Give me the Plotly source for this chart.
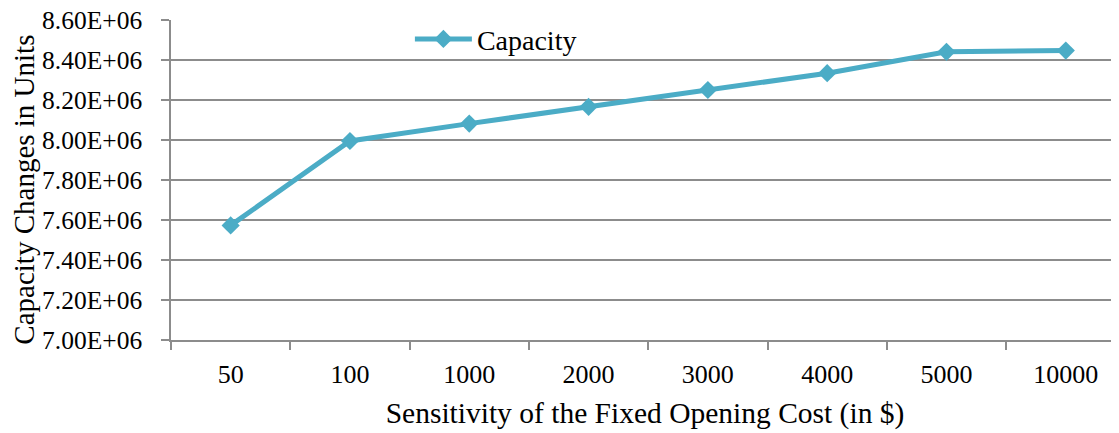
import plotly.graph_objects as go

categories = ["50", "100", "1000", "2000", "3000", "4000", "5000", "10000"]
capacity = [7.573e6, 7.995e6, 8.082e6, 8.166e6, 8.250e6, 8.334e6, 8.441e6, 8.447e6]
y_tick_vals = [7.0e6, 7.2e6, 7.4e6, 7.6e6, 7.8e6, 8.0e6, 8.2e6, 8.4e6, 8.6e6]
y_tick_text = ["7.00E+06", "7.20E+06", "7.40E+06", "7.60E+06", "7.80E+06",
               "8.00E+06", "8.20E+06", "8.40E+06", "8.60E+06"]
x_title = "Sensitivity of the Fixed Opening Cost (in $)"
y_title = "Capacity Changes in Units"

FONT = "Liberation Serif"
TEAL = "#4BACC6"
GRID = "#8C8C8C"

fig = go.Figure()
fig.add_trace(go.Scatter(
    x=categories, y=capacity, name="Capacity", mode="lines+markers",
    line=dict(color=TEAL, width=5),
    marker=dict(symbol="diamond", size=14, color=TEAL),
))

fig.add_annotation(
    text=y_title, textangle=-90, xref="paper", yref="paper",
    x=-0.155, y=0.47, xanchor="center", yanchor="middle", showarrow=False,
    font=dict(family=FONT, size=29, color="black"),
)

fig.update_layout(
    width=1111, height=425,
    margin=dict(l=163, r=0, t=12, b=93),
    paper_bgcolor="white", plot_bgcolor="white",
    font=dict(family=FONT, size=25.5, color="black"),
    showlegend=True,
    legend=dict(x=0.252, y=0.94, xanchor="left", yanchor="middle",
                bgcolor="rgba(0,0,0,0)", font=dict(family=FONT, size=28, color="black"),
                itemwidth=57, tracegroupgap=0),
    xaxis=dict(
        type="category", range=[-0.5, 7.446],
        showgrid=False, showline=True, linecolor=GRID, linewidth=1.5,
        ticks="outside", tickson="boundaries", ticklen=8, tickcolor=GRID, tickwidth=1.5,
        tickfont=dict(family=FONT, size=26, color="black"), ticklabelstandoff=10,
        title=dict(text=x_title,
                   font=dict(family=FONT, size=29.5, color="black"), standoff=14),
        automargin=False,
    ),
    yaxis=dict(
        range=[7.0e6, 8.6e6], tickvals=y_tick_vals, ticktext=y_tick_text,
        showgrid=True, gridcolor=GRID, gridwidth=1.5,
        showline=True, linecolor=GRID, linewidth=1.5, zeroline=False,
        ticks="outside", ticklen=8, tickcolor=GRID, tickwidth=1.5,
        tickfont=dict(family=FONT, size=25.5, color="black"), ticklabelstandoff=14,
        ticklabeloverflow="allow",
        automargin=False,
    ),
)

fig.write_html("out.html")
